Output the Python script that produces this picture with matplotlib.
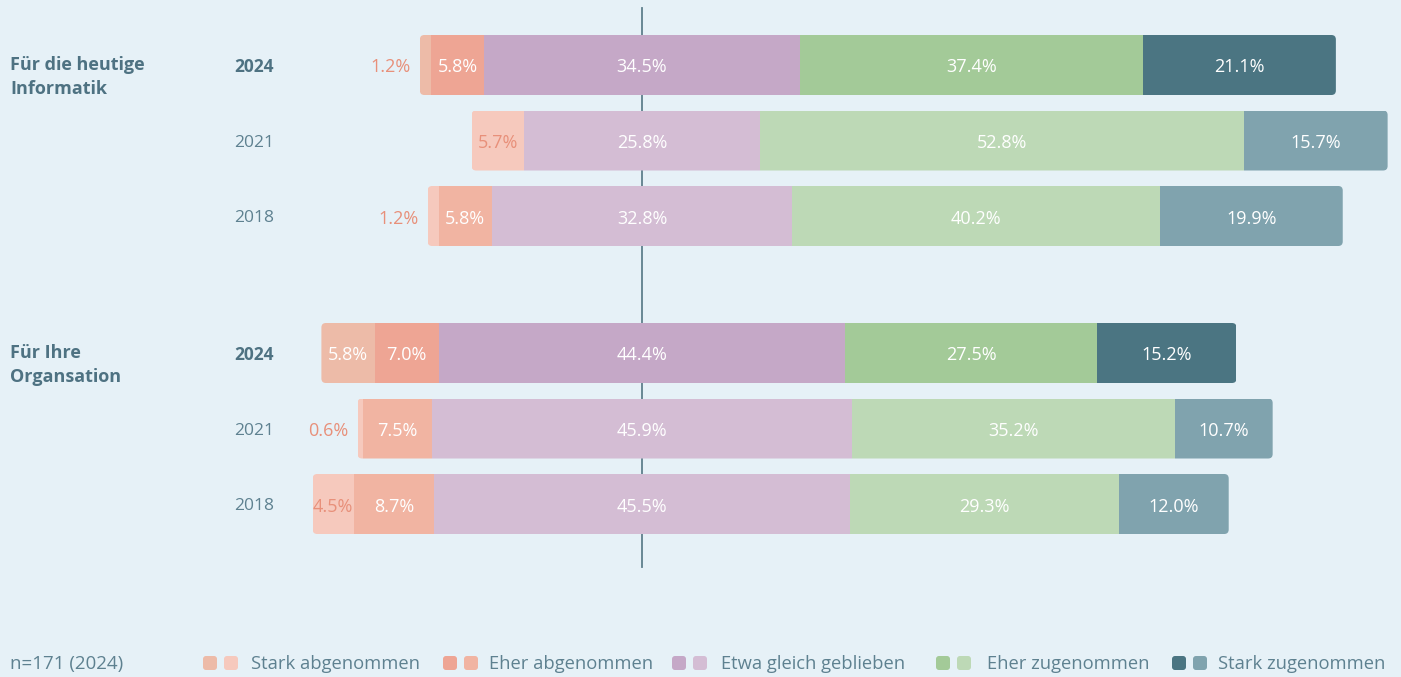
import matplotlib.pyplot as plt
from matplotlib.patches import FancyBboxPatch

plt.rcParams['font.family'] = ['Open Sans', 'DejaVu Sans']

# data (percent)
categories = ["Stark abgenommen", "Eher abgenommen", "Etwa gleich geblieben",
              "Eher zugenommen", "Stark zugenommen"]
groups = ["Für die heutige\nInformatik", "Für Ihre\nOrgansation"]
years = ["2024", "2021", "2018"]

informatik = {
    "2024": [1.2, 5.8, 34.5, 37.4, 21.1],
    "2021": [5.7, 0.0, 25.8, 52.8, 15.7],
    "2018": [1.2, 5.8, 32.8, 40.2, 19.9],
}
organisation = {
    "2024": [5.8, 7.0, 44.4, 27.5, 15.2],
    "2021": [0.6, 7.5, 45.9, 35.2, 10.7],
    "2018": [4.5, 8.7, 45.5, 29.3, 12.0],
}
group_data = [informatik, organisation]
footnote = "n=171 (2024)"

# colours: current year / earlier years
col_now = ["#EDBBA8", "#EEA594", "#C5A8C7", "#A3CA98", "#4B7582"]
col_old = ["#F6C9BD", "#F1B4A2", "#D4BDD4", "#BDD9B6", "#80A3AE"]
bg = "#E6F1F7"
txt = "#5E8190"
txt_bold = "#4E7282"
salmon = "#E8907A"

W, H = 1401, 677
px_per = 9.16          # pixels per percent point
cx = 642               # pixel position of the centre line
fig = plt.figure(figsize=(W / 100, H / 100), dpi=100, facecolor=bg)
ax = fig.add_axes([0, 0, 1, 1])
ax.set_facecolor(bg)
ax.set_xlim(-cx / px_per, (W - cx) / px_per)
ax.set_ylim(H, 0)
ax.axis('off')


def px(xp):
    return (xp - cx) / px_per


ax.plot([0, 0], [8, 567], color="#5E7F8C", lw=1.3, zorder=1)

bar_h = 60
group_top = [65, 353]
step = 75.5
r = 4.5 / px_per
dy = 2.5   # small downward nudge so text sits optically centred

for g, (gname, gdata) in enumerate(zip(groups, group_data)):
    ax.text(px(10), group_top[g] + 12, gname, fontsize=13,
            fontweight='bold', color=txt_bold, ha='left', va='center',
            linespacing=1.4)
    for i, yr in enumerate(years):
        y = group_top[g] + i * step
        vals = gdata[yr]
        cols = col_now if i == 0 else col_old
        ax.text(px(274), y + dy, yr, fontsize=12.5, ha='right', va='center',
                color=txt_bold if i == 0 else txt,
                fontweight='bold' if i == 0 else 'normal')
        left = -(vals[2] / 2 + vals[1] + vals[0])
        total = sum(vals)
        clip = FancyBboxPatch((left, y - bar_h / 2), total, bar_h,
                              boxstyle=f"round,pad=0,rounding_size={r}",
                              mutation_aspect=px_per, fc='none', ec='none')
        ax.add_patch(clip)
        x0 = left
        for k, v in enumerate(vals):
            if v <= 0:
                continue
            b = ax.barh(y, v, left=x0, height=bar_h, color=cols[k], lw=0, zorder=2)
            for p in b:
                p.set_clip_path(clip)
            lab = f"{v:.1f}%"
            if v < 2:
                ax.text(left - 9 / px_per, y + dy, lab, ha='right', va='center',
                        fontsize=13, color=salmon, zorder=3)
            else:
                c = salmon if (k == 0 and i > 0) else "white"
                ax.text(x0 + v / 2, y + dy, lab, ha='center', va='center',
                        fontsize=13, color=c, zorder=3)
            x0 += v

# footer
ax.text(px(10), 664, footnote, ha='left', va='center', fontsize=13.5, color=txt)
leg_sq = [203, 443, 672, 936, 1172]
leg_tx = [251, 489, 721, 987, 1218]
sq = 14
for k, name in enumerate(categories):
    for j, c in enumerate([col_now[k], col_old[k]]):
        xs = leg_sq[k] + j * 21
        ax.add_patch(FancyBboxPatch((px(xs), 663 - sq / 2), sq / px_per, sq,
                                    boxstyle=f"round,pad=0,rounding_size={3 / px_per}",
                                    mutation_aspect=px_per, fc=c, ec='none'))
    ax.text(px(leg_tx[k]), 664, name, ha='left', va='center',
            fontsize=13.2, color=txt)

fig.savefig("out.png", dpi=100, facecolor=bg)
